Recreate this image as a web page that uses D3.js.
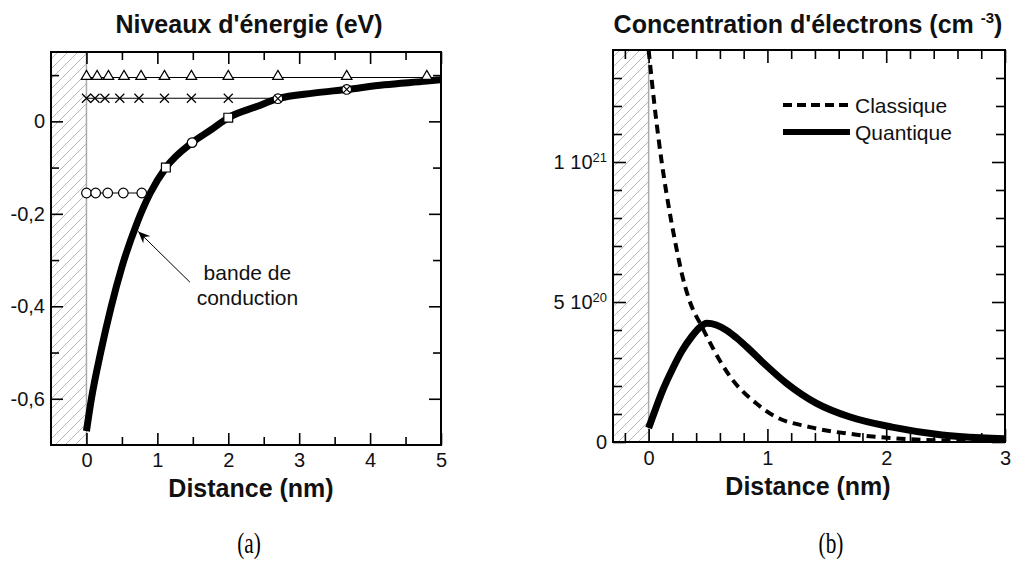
<!DOCTYPE html>
<html><head><meta charset="utf-8">
<script src="https://cdn.jsdelivr.net/npm/d3@7"></script>
<style>body{margin:0;background:#fff}svg{display:block}</style>
</head><body>
<svg id="chart" width="1011" height="573"></svg>
<script>
// ---------- DATA: panel (a) energy levels ----------
const bandX = [0, 0.07, 0.2, 0.35, 0.5, 0.7, 0.9, 1.12, 1.49, 1.77, 2.0, 2.4, 2.7, 3.2, 3.67, 4.2, 4.8, 5];
const bandE = [-0.67, -0.6, -0.5, -0.4, -0.315, -0.225, -0.155, -0.1, -0.046, -0.017, 0.008, 0.032, 0.049, 0.061, 0.069, 0.079, 0.087, 0.09];
const levelE   = [0.095, 0.05, -0.155];          // triangle, cross, circle levels (eV)
const levelEnd = [5, 2.7, 0.87];                  // x where each level line stops (nm)
const levelSym = ["triangle", "cross", "circle"];
const triLevelX    = [0, 0.15, 0.31, 0.53, 0.77, 1.1, 1.48, 2.0, 2.7, 3.67, 4.8];
const crossLevelX  = [0, 0.12, 0.26, 0.47, 0.74, 1.1, 1.48, 2.0];
const circleLevelX = [0, 0.13, 0.3, 0.52, 0.78];
const bandMarkX = [1.12, 1.49, 2.0, 2.7, 3.67];
const bandMarkE = [-0.1, -0.046, 0.008, 0.049, 0.069];
const bandMarkSym = ["square", "circle", "square", "ocross", "ocross"];
const xTicksA = [0, 1, 2, 3, 4, 5];
const xMinorA = [0.5, 1.5, 2.5, 3.5, 4.5];
const yTicksA = [0, -0.2, -0.4, -0.6];
const yMinorA = [0.1, -0.1, -0.3, -0.5];

// ---------- DATA: panel (b) electron concentration (units of 1e20 cm^-3) ----------
const classX = [0, 0.05, 0.11, 0.19, 0.235, 0.28, 0.34, 0.45, 0.51, 0.6, 0.71, 0.9, 1.07, 1.35, 1.77, 2.3, 3.0];
const classN = [14.0, 12.0, 10.0, 7.9, 6.9, 6.0, 5.1, 4.1, 3.6, 2.9, 2.2, 1.4, 0.9, 0.54, 0.25, 0.08, 0.02];
const quantX = [0, 0.06, 0.12, 0.2, 0.28, 0.36, 0.42, 0.49, 0.57, 0.66, 0.74, 0.85, 0.96, 1.16, 1.41, 1.69, 2.05, 2.47, 2.8, 3.0];
const quantN = [0.5, 1.2, 1.86, 2.6, 3.25, 3.75, 4.05, 4.24, 4.18, 3.98, 3.72, 3.3, 2.85, 2.1, 1.39, 0.9, 0.53, 0.25, 0.15, 0.12];
const seriesNames = ["Classique", "Quantique"];
const xTicksB = [0, 1, 2, 3];
const xMinorB = [-0.2, 0.2, 0.4, 0.6, 0.8, 1.2, 1.4, 1.6, 1.8, 2.2, 2.4, 2.6, 2.8];
const yTicksB = [0, 5, 10];
const yLabelsB = [["0", ""], ["5 10", "20"], ["1 10", "21"]];
const yMinorB = [1, 2, 3, 4, 6, 7, 8, 9, 11, 12, 13];

// ---------- LAYOUT ----------
const svg = d3.select("#chart");
const FONT = "'Liberation Sans', Arial, Helvetica, sans-serif";
svg.append("rect").attr("width", 1011).attr("height", 573).attr("fill", "#fff");

const defs = svg.append("defs");
const hatch = defs.append("pattern").attr("id", "hatch").attr("patternUnits", "userSpaceOnUse")
  .attr("width", 10).attr("height", 10);
hatch.append("path").attr("d", "M-2,12 L12,-2 M-2,2 L2,-2 M8,12 L12,8")
  .attr("stroke", "#b8b8b8").attr("stroke-width", 1).attr("fill", "none");
defs.append("marker").attr("id", "arrow").attr("viewBox", "0 0 12 10").attr("refX", 12).attr("refY", 5)
  .attr("markerWidth", 12).attr("markerHeight", 10).attr("markerUnits", "userSpaceOnUse").attr("orient", "auto")
  .append("path").attr("d", "M0,0 L12,5 L0,10 L4,5 Z").attr("fill", "#000");

function frame(g, x, y, id) {
  const [x0, x1] = x.range(), [y0, y1] = y.range();
  defs.append("clipPath").attr("id", id).append("rect")
    .attr("x", x0).attr("y", y1).attr("width", x1 - x0).attr("height", y0 - y1);
  g.append("rect").attr("x", x0).attr("y", y1).attr("width", x(0) - x0).attr("height", y0 - y1)
    .attr("fill", "url(#hatch)");
  g.append("line").attr("x1", x(0)).attr("x2", x(0)).attr("y1", y1).attr("y2", y0)
    .attr("stroke", "#aaa").attr("stroke-width", 1.5);
}
function box(g, x, y) {
  const [x0, x1] = x.range(), [y0, y1] = y.range();
  g.append("rect").attr("x", x0).attr("y", y1).attr("width", x1 - x0).attr("height", y0 - y1)
    .attr("fill", "none").attr("stroke", "#000").attr("stroke-width", 2);
}
function ticks(g, x, y, xMaj, xMin, yMaj, yMin, lenMaj, lenMin, xFmt, yFmt, xPad, yPad) {
  const [x0, x1] = x.range(), [y0, y1] = y.range();
  const style = s => { s.select(".domain").remove(); s.selectAll("line").attr("stroke", "#000").attr("stroke-width", 1.6);
    s.selectAll("text").attr("font-family", FONT).attr("font-size", 20).attr("fill", "#111"); };
  g.append("g").attr("transform", `translate(0,${y0})`).call(d3.axisBottom(x).tickValues(xMaj).tickSize(-lenMaj).tickPadding(xPad).tickFormat(xFmt)).call(style);
  g.append("g").attr("transform", `translate(0,${y0})`).call(d3.axisBottom(x).tickValues(xMin).tickSize(-lenMin).tickFormat("")).call(style);
  g.append("g").attr("transform", `translate(0,${y1})`).call(d3.axisTop(x).tickValues(xMaj).tickSize(-lenMaj).tickFormat("")).call(style);
  g.append("g").attr("transform", `translate(0,${y1})`).call(d3.axisTop(x).tickValues(xMin).tickSize(-lenMin).tickFormat("")).call(style);
  const yl = g.append("g").attr("transform", `translate(${x0},0)`).call(d3.axisLeft(y).tickValues(yMaj).tickSize(-lenMaj).tickPadding(yPad).tickFormat(yFmt)).call(style);
  g.append("g").attr("transform", `translate(${x0},0)`).call(d3.axisLeft(y).tickValues(yMin).tickSize(-lenMin).tickFormat("")).call(style);
  g.append("g").attr("transform", `translate(${x1},0)`).call(d3.axisRight(y).tickValues(yMaj).tickSize(-lenMaj).tickFormat("")).call(style);
  g.append("g").attr("transform", `translate(${x1},0)`).call(d3.axisRight(y).tickValues(yMin).tickSize(-lenMin).tickFormat("")).call(style);
  return yl;
}
function symbol(g, type, cx, cy) {
  const s = g.append("g").attr("transform", `translate(${cx},${cy})`)
    .attr("fill", "#fff").attr("stroke", "#000").attr("stroke-width", 1.2);
  if (type === "triangle") s.append("path").attr("d", d3.symbol(d3.symbolTriangle, 48)()).attr("transform", "translate(0,-1)");
  else if (type === "circle") s.append("circle").attr("r", 4.8);
  else if (type === "square") s.append("path").attr("d", d3.symbol(d3.symbolSquare, 78)());
  else if (type === "cross") s.append("path").attr("d", "M-4.5,-4.5 L4.5,4.5 M-4.5,4.5 L4.5,-4.5").attr("fill", "none");
  else if (type === "ocross") { s.append("circle").attr("r", 4.8); s.append("path").attr("d", "M-3.5,-3.5 L3.5,3.5 M-3.5,3.5 L3.5,-3.5"); }
}

// ---------- PANEL (a) ----------
const xA = d3.scaleLinear().domain([-0.5, 5]).range([51, 441]);
const yA = d3.scaleLinear().domain([-0.7, 0.15]).range([445, 52]);
const gA = svg.append("g");
frame(gA, xA, yA, "clipA");
const plotA = gA.append("g").attr("clip-path", "url(#clipA)");
const levelXs = [triLevelX, crossLevelX, circleLevelX];
levelE.forEach((e, i) => {
  plotA.append("line").attr("x1", xA(0)).attr("x2", xA(levelEnd[i])).attr("y1", yA(e)).attr("y2", yA(e))
    .attr("stroke", "#000").attr("stroke-width", 1.1);
});
plotA.append("path").datum(bandX.map((x, i) => [x, bandE[i]]))
  .attr("d", d3.line().x(d => xA(d[0])).y(d => yA(d[1])).curve(d3.curveMonotoneX))
  .attr("fill", "none").attr("stroke", "#000").attr("stroke-width", 7);
levelE.forEach((e, i) => levelXs[i].forEach(x => symbol(plotA, levelSym[i], xA(x), yA(e))));
bandMarkX.forEach((x, i) => symbol(plotA, bandMarkSym[i], xA(x), yA(bandMarkE[i])));
box(gA, xA, yA);
ticks(gA, xA, yA, xTicksA, xMinorA, yTicksA, yMinorA, 12, 8,
  d3.format("d"), d => d === 0 ? "0" : d.toFixed(1).replace(".", ","), 8, 6);
// annotation
gA.append("line").attr("x1", xA(1.46)).attr("y1", yA(-0.348)).attr("x2", xA(0.73)).attr("y2", yA(-0.238))
  .attr("stroke", "#000").attr("stroke-width", 1).attr("marker-end", "url(#arrow)");
const ann = gA.append("text").attr("font-family", FONT).attr("font-size", 21).attr("fill", "#111").attr("text-anchor", "middle");
ann.append("tspan").attr("x", xA(2.27)).attr("y", yA(-0.344)).text("bande de");
ann.append("tspan").attr("x", xA(2.27)).attr("y", yA(-0.398)).text("conduction");
gA.append("text").attr("x", 249).attr("y", 33).attr("text-anchor", "middle").attr("font-family", FONT)
  .attr("font-weight", "bold").attr("font-size", 25).attr("fill", "#111").text("Niveaux d'énergie (eV)");
gA.append("text").attr("x", 251).attr("y", 497).attr("text-anchor", "middle").attr("font-family", FONT)
  .attr("font-weight", "bold").attr("font-size", 25).attr("fill", "#111").text("Distance (nm)");

// ---------- PANEL (b) ----------
const xB = d3.scaleLinear().domain([-0.3, 3]).range([613, 1005]);
const yB = d3.scaleLinear().domain([0, 14]).range([442, 50]);
const gB = svg.append("g");
frame(gB, xB, yB, "clipB");
const plotB = gB.append("g").attr("clip-path", "url(#clipB)");
const lineB = d3.line().x(d => xB(d[0])).y(d => yB(d[1])).curve(d3.curveMonotoneX);
plotB.append("path").datum(classX.map((x, i) => [x, classN[i]])).attr("d", lineB)
  .attr("fill", "none").attr("stroke", "#000").attr("stroke-width", 4).attr("stroke-dasharray", "9,6");
plotB.append("path").datum(quantX.map((x, i) => [x, quantN[i]])).attr("d", lineB)
  .attr("fill", "none").attr("stroke", "#000").attr("stroke-width", 7);
box(gB, xB, yB);
const ylB = ticks(gB, xB, yB, xTicksB, xMinorB, yTicksB, yMinorB, 13, 9, d3.format("d"), () => "", 9, 6);
ylB.selectAll(".tick text").each(function (d) {
  const lab = yLabelsB[yTicksB.indexOf(d)];
  const t = d3.select(this);
  t.append("tspan").text(lab[0]);
  if (lab[1]) t.append("tspan").attr("dy", "-0.55em").attr("font-size", 13).text(lab[1]);
});
// legend
const legY = [105, 132];
gB.append("line").attr("x1", 783).attr("x2", 850).attr("y1", legY[0]).attr("y2", legY[0])
  .attr("stroke", "#000").attr("stroke-width", 4).attr("stroke-dasharray", "9,5");
gB.append("line").attr("x1", 783).attr("x2", 850).attr("y1", legY[1]).attr("y2", legY[1])
  .attr("stroke", "#000").attr("stroke-width", 6);
seriesNames.forEach((n, i) => gB.append("text").attr("x", 855).attr("y", legY[i] + 8).attr("font-family", FONT)
  .attr("font-size", 21).attr("fill", "#111").text(n));
const tB = gB.append("text").attr("x", 808).attr("y", 33).attr("text-anchor", "middle").attr("font-family", FONT)
  .attr("font-weight", "bold").attr("font-size", 25).attr("fill", "#111");
tB.append("tspan").text("Concentration d'électrons (cm ");
tB.append("tspan").attr("dy", -10).attr("font-size", 15).text("-3");
tB.append("tspan").attr("dy", 10).text(")");
gB.append("text").attr("x", 808).attr("y", 495).attr("text-anchor", "middle").attr("font-family", FONT)
  .attr("font-weight", "bold").attr("font-size", 25).attr("fill", "#111").text("Distance (nm)");

// ---------- captions ----------
[["(a)", 249], ["(b)", 831]].forEach(([t, x]) =>
  svg.append("text").attr("transform", `translate(${x},553) scale(0.85,1.15)`).attr("text-anchor", "middle")
    .attr("font-family", "'Liberation Serif', 'Times New Roman', serif").attr("font-size", 25).attr("fill", "#000").text(t));
</script>
</body></html>
